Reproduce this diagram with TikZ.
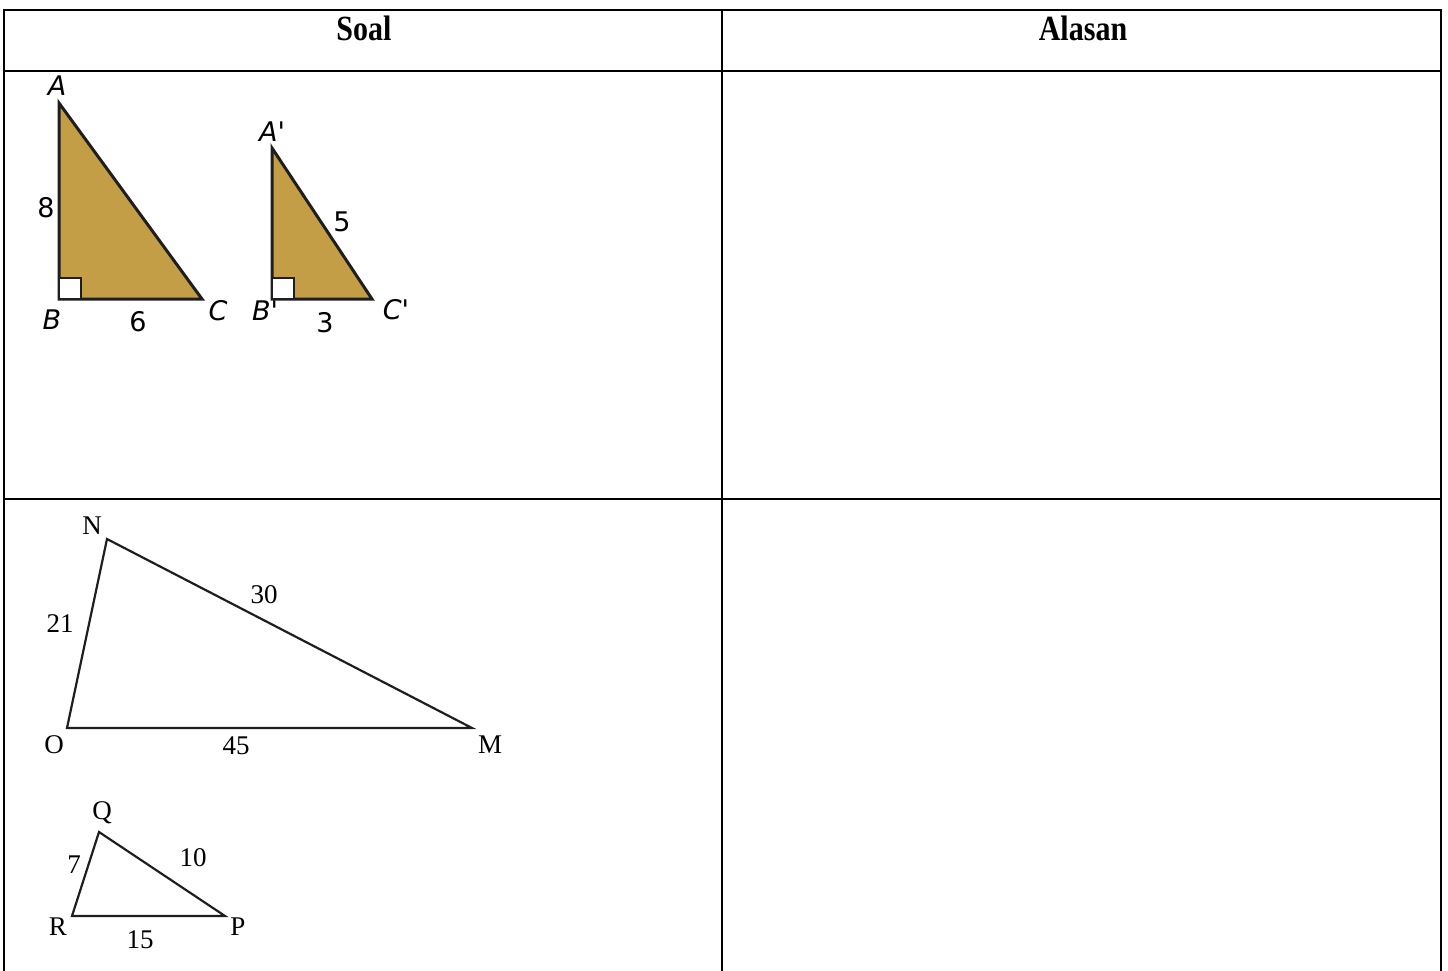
\documentclass[tikz,border=0pt]{standalone}
\usepackage{fontspec}
\setmainfont{Liberation Serif}
\newfontfamily\vfont{DejaVu Sans}
\definecolor{tan}{RGB}{195,158,70}
\definecolor{edge}{RGB}{30,30,30}
\begin{document}
\begin{tikzpicture}[x=1pt,y=-1pt,
  grid/.style={line width=2.8pt,black},
  head/.style={font=\fontsize{30}{30}\selectfont\bfseries,inner sep=0pt,anchor=base},
  vlab/.style={font=\vfont\fontsize{27}{27}\selectfont\itshape,inner sep=0pt},
  vnum/.style={font=\vfont\fontsize{27}{27}\selectfont,inner sep=0pt},
  tlab/.style={font=\fontsize{27}{27}\selectfont,inner sep=0pt},
  tri/.style={draw=edge,line width=3pt,fill=tan,line join=miter},
  sq/.style={draw=edge,line width=2.6pt,fill=white},
  otri/.style={draw=edge,line width=2.2pt,line join=miter}]
\useasboundingbox (0,0) rectangle (1448,971);
% table
\coordinate (tl) at (4,10);
\coordinate (tr) at (1441,10);
\coordinate (bl) at (4,971);
\coordinate (br) at (1441,971);
\coordinate (mt) at (722,10);
\coordinate (mb) at (722,971);
\coordinate (h1l) at (4,71);
\coordinate (h1r) at (1441,71);
\coordinate (h2l) at (4,499);
\coordinate (h2r) at (1441,499);
\draw[grid] (bl) -- (tl) -- (tr) -- (br);
\draw[grid] (mt) -- (mb);
\draw[grid] (h1l) -- (h1r);
\draw[grid] (h2l) -- (h2r);
\node[head] (soal) at (364,41) {\scalebox{1}[1.18]{Soal}};
\node[head] (alasan) at (1083,41) {\scalebox{1}[1.18]{Alasan}};
% triangle ABC
\coordinate (A) at (59,103);
\coordinate (B) at (59,299);
\coordinate (C) at (202,299);
\draw[tri] (A) -- (B) -- (C) -- cycle;
\draw[sq] (B) rectangle ++(22,-21);
\node[vlab] (lA) at (57,86) {A};
\node[vnum] (l8) at (46,208) {8};
\node[vlab] (lB) at (52,320) {B};
\node[vnum] (l6) at (138,322) {6};
\node[vlab] (lC) at (218,311) {C};
% triangle A'B'C'
\coordinate (A2) at (272,148);
\coordinate (B2) at (272,299);
\coordinate (C2) at (372,299);
\draw[tri] (A2) -- (B2) -- (C2) -- cycle;
\draw[sq] (B2) rectangle ++(22,-21);
\node[vlab] (lA2) at (272,132) {A'};
\node[vnum] (l5) at (342,222) {5};
\node[vlab] (lB2) at (265,311) {B'};
\node[vnum] (l3) at (325,323) {3};
\node[vlab] (lC2) at (396,310) {C'};
% triangle NOM
\coordinate (N) at (107,539);
\coordinate (O) at (67,728);
\coordinate (M) at (472,728);
\draw[otri] (N) -- (O) -- (M) -- cycle;
\node[tlab] (lN) at (92,526) {N};
\node[tlab] (l30) at (264,595) {30};
\node[tlab] (l21) at (60,624) {21};
\node[tlab] (lO) at (54,745) {O};
\node[tlab] (l45) at (236,746) {45};
\node[tlab] (lM) at (490,745) {M};
% triangle QRP
\coordinate (Q) at (99,832);
\coordinate (R) at (72,916);
\coordinate (P) at (225,916);
\draw[otri] (Q) -- (R) -- (P) -- cycle;
\node[tlab] (lQ) at (102,813) {Q};
\node[tlab] (l7) at (74,865) {7};
\node[tlab] (l10) at (193,858) {10};
\node[tlab] (lR) at (58,927) {R};
\node[tlab] (lP) at (238,927) {P};
\node[tlab] (l15) at (140,940) {15};
\end{tikzpicture}
\end{document}
